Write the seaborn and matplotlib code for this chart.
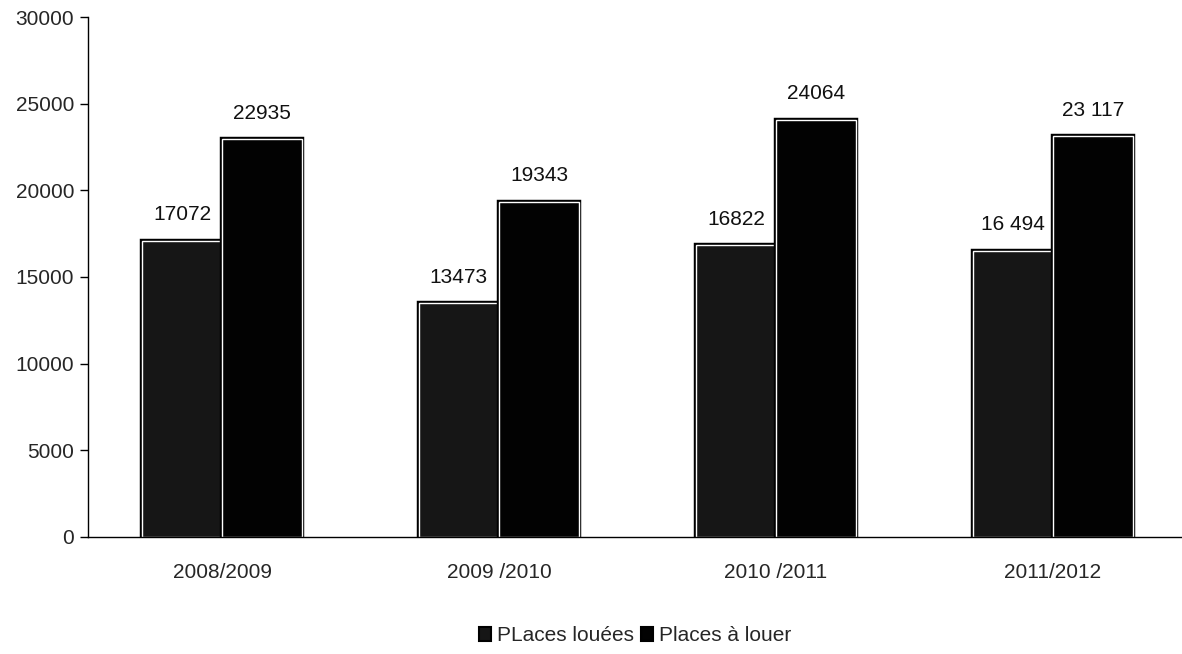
import matplotlib
matplotlib.use("Agg")
import matplotlib.pyplot as plt
import matplotlib.patheffects as pe
import seaborn as sns
import pandas as pd

seasons = ["2008/2009", "2009 /2010", "2010 /2011", "2011/2012"]
series_names = ["PLaces louées", "Places à louer"]
places_louees = [17072, 13473, 16822, 16494]
places_a_louer = [22935, 19343, 24064, 23117]
labels_louees = ["17072", "13473", "16822", "16 494"]
labels_a_louer = ["22935", "19343", "24064", "23 117"]
y_ticks = [0, 5000, 10000, 15000, 20000, 25000, 30000]

df = pd.DataFrame({
    "saison": seasons * 2,
    "serie": [series_names[0]] * 4 + [series_names[1]] * 4,
    "valeur": places_louees + places_a_louer,
})

sns.set_theme(style="white")
plt.rcParams["font.family"] = ["Liberation Sans", "DejaVu Sans"]

fig = plt.figure(figsize=(11.82, 6.54), dpi=100)
ax = fig.add_axes([0.0745, 0.179, 0.9255, 0.795])

sns.barplot(data=df, x="saison", y="valeur", hue="serie",
            palette=["#161616", "#020202"], width=0.58, gap=0,
            edgecolor="white", linewidth=1.0, ax=ax, legend=True)

# black outer border around each bar, white inner line from the edgecolor
for patch in ax.patches:
    patch.set_path_effects([pe.Stroke(linewidth=3.2, foreground="black"), pe.Normal()])

all_labels = [labels_louees, labels_a_louer]
for container, labs in zip(ax.containers, all_labels):
    ax.bar_label(container, labels=labs, padding=12, fontsize=15, color="#111111")

ax.set_ylim(0, 30000)
ax.set_xlim(-0.484, 3.466)
ax.set_yticks(y_ticks)
ax.set_yticklabels([str(t) for t in y_ticks], fontsize=15)
ax.tick_params(axis="y", which="both", left=True, length=6, width=1, color="black", pad=4)
ax.tick_params(axis="x", bottom=False, length=0, labelsize=15, pad=19)
ax.set_xlabel("")
ax.set_ylabel("")

for side in ["top", "right"]:
    ax.spines[side].set_visible(False)
for side in ["left", "bottom"]:
    ax.spines[side].set_color("black")
    ax.spines[side].set_linewidth(1.0)

leg = ax.legend(loc="upper center", bbox_to_anchor=(0.5, -0.148), ncol=2, frameon=False,
                fontsize=15, handlelength=0.6, handleheight=0.6, handletextpad=0.3,
                columnspacing=0.3, borderaxespad=0.2)
for h in leg.legend_handles:
    h.set_edgecolor("black")
    h.set_linewidth(1.5)
    h.set_path_effects([])

fig.savefig("out.png", dpi=100)
